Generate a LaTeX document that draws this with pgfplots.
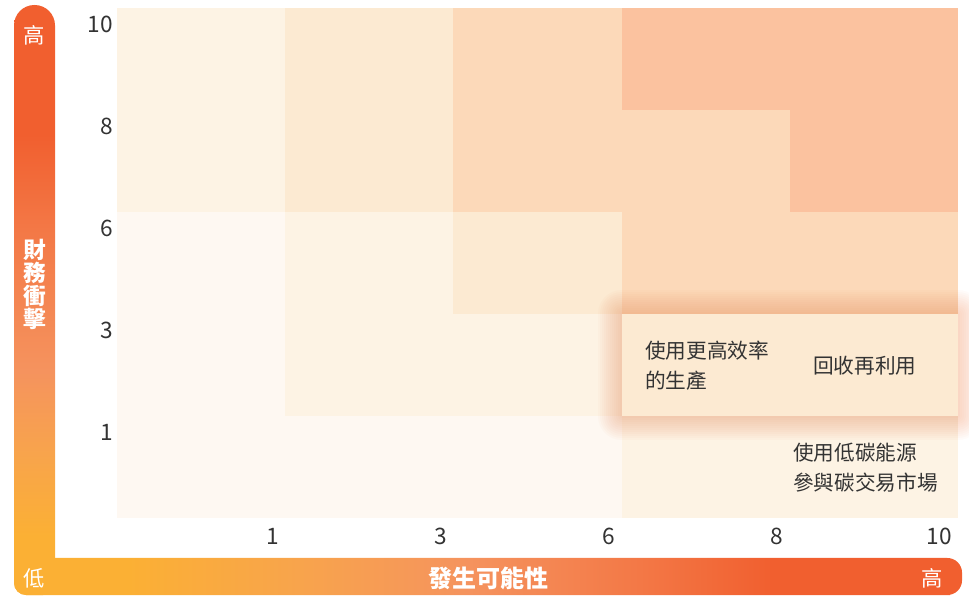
\documentclass[border=0pt]{standalone}
\usepackage{fontspec}
\setmainfont{Noto Sans CJK TC}
\usepackage{pgfplots}
\pgfplotsset{compat=1.18}
\definecolor{L0}{HTML}{FEF8F2}
\definecolor{L1}{HTML}{FDF3E4}
\definecolor{L2}{HTML}{FCEAD2}
\definecolor{L3}{HTML}{FCD9B9}
\definecolor{L4}{HTML}{FBC29F}
\definecolor{glowc}{HTML}{F28C5A}
\definecolor{txt}{HTML}{333333}
\definecolor{cY}{HTML}{FBB034}
\definecolor{cY2}{HTML}{F8A44C}
\definecolor{cM}{HTML}{F5935E}
\definecolor{cR2}{HTML}{F37846}
\definecolor{cR}{HTML}{F15F2F}
\pgfdeclareverticalshading{vgrad}{100bp}{color(0bp)=(cY); color(30bp)=(cY); color(37bp)=(cY2); color(44bp)=(cM); color(56bp)=(cR2); color(64bp)=(cR); color(100bp)=(cR)}
\pgfdeclarehorizontalshading{hgrad}{100bp}{color(0bp)=(cY); color(31bp)=(cY); color(40bp)=(cY2); color(49bp)=(cM); color(58bp)=(cR2); color(65bp)=(cR); color(100bp)=(cR)}
\newcommand{\cell}[5]{\addplot[fill=#5, draw=none, forget plot] coordinates {(#1,#3) (#2,#3) (#2,#4) (#1,#4)} --cycle;}
\newcommand{\glow}[1]{\addplot[draw=glowc, draw opacity=0.036, line width=#1pt, line join=round, forget plot] coordinates {(3,1) (5,1) (5,2) (3,2)} --cycle;}
\begin{document}
\begin{tikzpicture}
\path[use as bounding box] (0pt,0pt) rectangle (726.75pt,446.25pt);
\begin{axis}[
  at={(87.75pt,57.75pt)}, anchor=south west,
  scale only axis, width=630.75pt, height=382.5pt,
  xmin=0, xmax=5, ymin=0, ymax=5,
  axis line style={draw=none},
  major tick length=0pt,
  clip=false,
  xtick={1,2,3,4,5}, xticklabels={1,3,6,8,10},
  ytick={1,2,3,4,5}, yticklabels={1,3,6,8,10},
  /pgf/number format/assume math mode=true,
  tick label style={text=txt, font=\fontsize{17}{17}\selectfont, inner sep=0pt},
  x tick label style={anchor=east, xshift=-4.5pt, yshift=-13.5pt},
  y tick label style={anchor=east, xshift=-3pt, yshift=-12.5pt},
]
% row "10"
\cell{0}{1}{4}{5}{L1}
\cell{1}{2}{4}{5}{L2}
\cell{2}{3}{4}{5}{L3}
\cell{3}{4}{4}{5}{L4}
\cell{4}{5}{4}{5}{L4}
% row "8"
\cell{0}{1}{3}{4}{L1}
\cell{1}{2}{3}{4}{L2}
\cell{2}{3}{3}{4}{L3}
\cell{3}{4}{3}{4}{L3}
\cell{4}{5}{3}{4}{L4}
% row "6"
\cell{0}{1}{2}{3}{L0}
\cell{1}{2}{2}{3}{L1}
\cell{2}{3}{2}{3}{L2}
\cell{3}{4}{2}{3}{L3}
\cell{4}{5}{2}{3}{L3}
% row "3"
\cell{0}{1}{1}{2}{L0}
\cell{1}{2}{1}{2}{L1}
\cell{2}{3}{1}{2}{L1}
% row "1"
\cell{0}{1}{0}{1}{L0}
\cell{1}{2}{0}{1}{L0}
\cell{2}{3}{0}{1}{L0}
\cell{3}{4}{0}{1}{L1}
\cell{4}{5}{0}{1}{L1}
% glow around highlighted cells
\glow{36}\glow{33}\glow{30}\glow{27}\glow{24}\glow{21}
\glow{18}\glow{15}\glow{12}\glow{9}\glow{6}\glow{3}
% highlighted cells
\cell{3}{4}{1}{2}{L2}
\cell{4}{5}{1}{2}{L2}
% texts
\node[anchor=west, align=left, text=txt, font=\fontsize{15.5}{22.5}\selectfont, inner sep=0pt] at (axis cs:3.139,1.495) {使用更高效率\\的生產};
\node[text=txt, font=\fontsize{15.5}{22.5}\selectfont, inner sep=0pt] at (axis cs:4.447,1.49) {回收再利用};
\node[anchor=west, align=left, text=txt, font=\fontsize{15.5}{22.5}\selectfont, inner sep=0pt] at (axis cs:4.019,0.49) {使用低碳能源\\參與碳交易市場};
\end{axis}
\begin{scope}[x=0.75pt, y=0.75pt]
\shade[shading=hgrad] (26,0) -- (950,0) [rounded corners=11pt] -- (962,0) -- (962,37) [sharp corners] -- (14,37) [rounded corners=9pt] -- (14,0) -- (26,0);
\shade[shading=vgrad] (14,20) [rounded corners=9pt] -- (14,0) -- (55,0) [sharp corners] -- (55,500) [rounded corners=15.3pt] -- (55,590) -- (14,590) [sharp corners] -- (14,20);
\node[text=white, font=\fontsize{16}{16}\selectfont] at (34.5,560) {高};
\node[text=white, font=\bfseries\fontsize{17}{17.25}\selectfont, align=center, inner sep=0pt] at (34.5,311) {財\\務\\衝\\擊};
\node[text=white, font=\fontsize{16}{16}\selectfont] at (34,17) {低};
\node[text=white, font=\bfseries\fontsize{18}{18}\selectfont] at (488,17) {發生可能性};
\node[text=white, font=\fontsize{16}{16}\selectfont] at (932,17) {高};
\end{scope}
\end{tikzpicture}
\end{document}
